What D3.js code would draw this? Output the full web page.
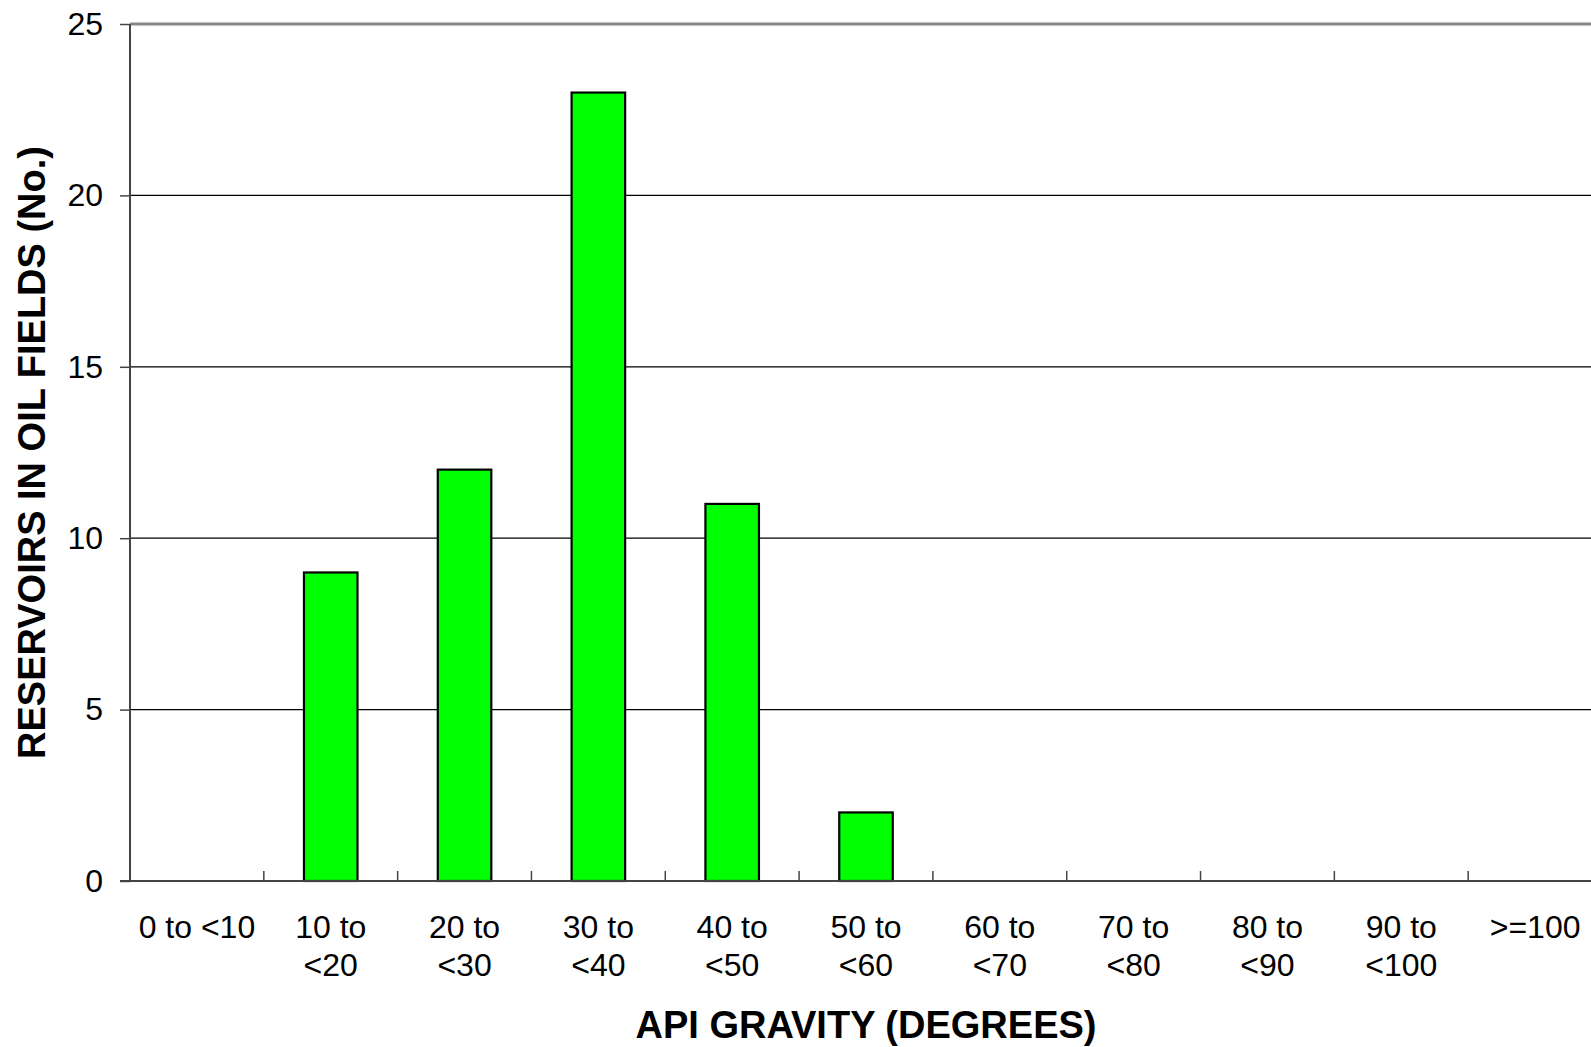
<!DOCTYPE html>
<html>
<head>
<meta charset="utf-8">
<script src="https://cdn.jsdelivr.net/npm/d3@7"></script>
<style>
html, body { margin: 0; padding: 0; background: #fff; }
svg { display: block; font-family: "Liberation Sans", Arial, sans-serif; }
</style>
</head>
<body>
<svg id="chart" width="1591" height="1047"></svg>
<script>
const categories = ["0 to <10", "10 to <20", "20 to <30", "30 to <40", "40 to <50", "50 to <60", "60 to <70", "70 to <80", "80 to <90", "90 to <100", ">=100"];
const labelLines = [["0 to <10"], ["10 to", "<20"], ["20 to", "<30"], ["30 to", "<40"], ["40 to", "<50"], ["50 to", "<60"], ["60 to", "<70"], ["70 to", "<80"], ["80 to", "<90"], ["90 to", "<100"], [">=100"]];
const values = [0, 9, 12, 23, 11, 2, 0, 0, 0, 0, 0];
const yTicks = [0, 5, 10, 15, 20, 25];
const xTitle = "API GRAVITY (DEGREES)";
const yTitle = "RESERVOIRS IN OIL FIELDS (No.)";

(function () {
const svg = d3.select("#chart");
const pL = 130, pR = 1602, pT = 24, pB = 881;

const x = d3.scaleBand().domain(categories).range([pL, pR]).paddingInner(0.6).paddingOuter(0.3);
const xb = d3.scaleBand().domain(categories).range([pL, pR]).padding(0);
const y = d3.scaleLinear().domain([0, 25]).range([pB, pT]);

// gridlines
svg.append("g").selectAll("line").data(yTicks.filter(d => d > 0)).join("line")
  .attr("x1", pL).attr("x2", 1591)
  .attr("y1", d => y(d)).attr("y2", d => y(d))
  .attr("stroke", d => d === 25 ? "#888" : "#000")
  .attr("stroke-width", d => d === 25 ? 3 : 1.2);

// bars
svg.append("g").selectAll("rect").data(values.map((v, i) => ({c: categories[i], v})).filter(d => d.v > 0)).join("rect")
  .attr("x", d => x(d.c)).attr("width", x.bandwidth())
  .attr("y", d => y(d.v)).attr("height", d => y(0) - y(d.v))
  .attr("fill", "#00ff00").attr("stroke", "#000").attr("stroke-width", 2.2);

// y axis
const yAxis = d3.axisLeft(y).tickValues(yTicks).tickSize(10).tickPadding(17).tickFormat(d3.format("d"));
const yg = svg.append("g").attr("transform", `translate(${pL},0)`).call(yAxis);
yg.select(".domain").attr("stroke", "#444").attr("stroke-width", 2).attr("d", `M0,${pT}V${pB}`);
yg.selectAll(".tick line").attr("stroke", "#444").attr("stroke-width", 1.5);
yg.selectAll(".tick text").attr("font-size", 32).attr("fill", "#000").attr("font-family", "Liberation Sans, Arial, sans-serif");

// x axis
const xg = svg.append("g").attr("transform", `translate(0,${pB})`);
xg.append("line").attr("x1", pL - 10).attr("x2", 1591).attr("y1", 0).attr("y2", 0)
  .attr("stroke", "#444").attr("stroke-width", 2);
xg.selectAll("line.tk").data(categories.slice(1)).join("line").attr("class", "tk")
  .attr("x1", d => xb(d)).attr("x2", d => xb(d)).attr("y1", 0).attr("y2", -10)
  .attr("stroke", "#444").attr("stroke-width", 1.5);
const lbl = xg.selectAll("text.lbl").data(categories).join("text").attr("class", "lbl")
  .attr("text-anchor", "middle").attr("font-size", 32).attr("fill", "#000")
  .attr("transform", d => `translate(${xb(d) + xb.bandwidth() / 2},0)`);
lbl.each(function(d, i) {
  const t = d3.select(this);
  labelLines[i].forEach((ln, j) => {
    t.append("tspan").attr("x", 0).attr("y", 57 + j * 38).text(ln);
  });
});

// titles
svg.append("text").attr("x", (pL + pR) / 2).attr("y", 1038)
  .attr("text-anchor", "middle").attr("font-size", 38).attr("font-weight", "bold").attr("fill", "#000")
  .text(xTitle);
svg.append("text").attr("transform", `translate(45,${(pT + pB) / 2}) rotate(-90)`)
  .attr("text-anchor", "middle").attr("font-size", 38).attr("font-weight", "bold").attr("fill", "#000")
  .text(yTitle);
})();
</script>
</body>
</html>
